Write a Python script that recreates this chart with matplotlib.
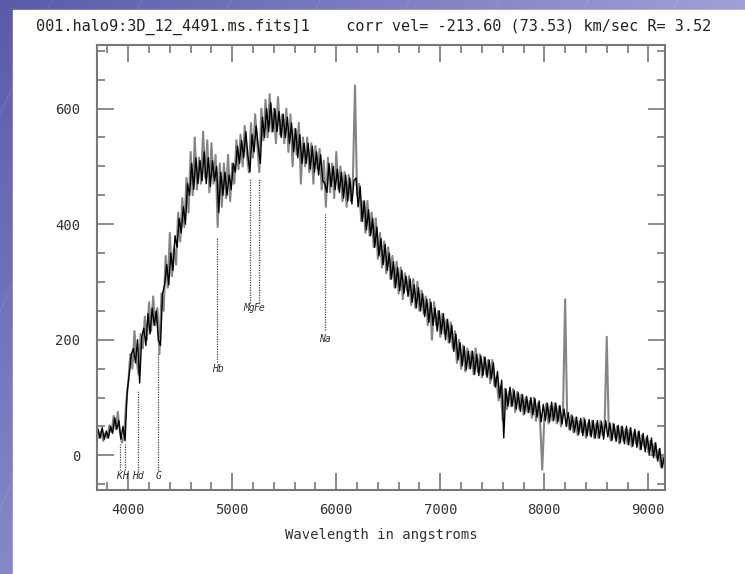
import numpy as np
import matplotlib
matplotlib.use("Agg")
import matplotlib.pyplot as plt
from matplotlib.ticker import MultipleLocator
from matplotlib.patches import Rectangle

# spectrum, gray trace (20 A steps from 3700)
onda_gris = np.arange(3700, 9161, 20)
flujo_gris = [48, 30, 42, 25, 38, 30, 52, 40, 68, 45,
              75, 40, 22, 35, 90, 125, 175, 150, 215, 165,
              140, 210, 185, 240, 200, 265, 215, 275, 225, 255,
              175, 280, 250, 345, 290, 385, 310, 360, 330, 420,
              370, 445, 395, 480, 420, 525, 450, 550, 460, 515,
              470, 560, 480, 545, 455, 540, 470, 520, 395, 505,
              430, 505, 445, 520, 440, 505, 470, 545, 495, 555,
              500, 570, 520, 490, 575, 515, 590, 540, 490, 600,
              545, 615, 550, 625, 560, 600, 540, 620, 555, 590,
              540, 600, 525, 590, 500, 565, 520, 575, 470, 550,
              500, 550, 490, 540, 470, 535, 495, 530, 460, 510,
              430, 515, 455, 505, 445, 525, 460, 500, 440, 490,
              430, 485, 440, 480, 640, 450, 470, 405, 440, 385,
              440, 380, 420, 360, 410, 340, 385, 325, 370, 315,
              360, 305, 345, 290, 335, 280, 325, 270, 315, 285,
              310, 260, 305, 255, 300, 250, 285, 245, 275, 225,
              270, 200, 265, 225, 250, 205, 245, 210, 235, 195,
              230, 185, 215, 160, 200, 150, 190, 145, 185, 150,
              180, 140, 185, 145, 175, 135, 170, 140, 165, 125,
              165, 120, 135, 95, 120, 60, 115, 80, 110, 85,
              115, 75, 110, 80, 105, 70, 100, 75, 95, 65,
              100, 60, 90, 55, -25, 65, 90, 55, 85, 60,
              90, 55, 85, 50, 80, 270, 60, 45, 70, 40,
              65, 35, 60, 40, 65, 30, 55, 35, 60, 30,
              55, 30, 60, 35, 55, 205, 40, 25, 55, 30,
              50, 20, 50, 25, 45, 20, 45, 15, 40, 20,
              40, 10, 35, 15, 30, 5, 25, 0, 20, -5,
              10, -20, 0, -25]

# spectrum, black trace (20 A steps from 3710)
onda_negra = np.arange(3710, 9151, 20)
flujo_negro = [45, 30, 48, 28, 42, 30, 50, 38, 65, 45,
               60, 28, 50, 25, 110, 140, 175, 185, 160, 200,
               125, 205, 220, 190, 245, 210, 255, 225, 250, 200,
               190, 280, 295, 330, 295, 350, 320, 380, 360, 410,
               385, 430, 400, 470, 450, 505, 460, 515, 470, 510,
               475, 525, 470, 515, 465, 510, 475, 500, 420, 490,
               450, 490, 450, 485, 460, 505, 490, 535, 505, 545,
               515, 560, 520, 490, 555, 525, 570, 535, 505, 585,
               550, 600, 560, 610, 560, 600, 560, 595, 550, 590,
               550, 585, 540, 575, 525, 565, 515, 555, 505, 540,
               505, 540, 495, 535, 490, 525, 485, 520, 475, 470,
               455, 505, 465, 500, 460, 495, 455, 490, 445, 485,
               440, 480, 435, 475, 480, 430, 465, 405, 440, 390,
               425, 380, 410, 360, 395, 345, 375, 330, 365, 320,
               350, 305, 335, 290, 325, 285, 320, 280, 310, 275,
               305, 265, 295, 255, 290, 250, 280, 240, 270, 230,
               265, 225, 255, 215, 250, 210, 245, 200, 235, 195,
               225, 180, 210, 165, 195, 155, 188, 148, 180, 150,
               180, 140, 175, 138, 172, 138, 170, 135, 165, 132,
               160, 118, 145, 100, 130, 30, 115, 85, 118, 85,
               112, 80, 108, 76, 105, 72, 102, 74, 100, 70,
               98, 66, 94, 58, 88, 60, 90, 58, 92, 60,
               90, 58, 86, 54, 80, 50, 74, 44, 68, 40,
               66, 36, 64, 34, 62, 33, 62, 32, 60, 30,
               60, 30, 58, 28, 60, 32, 56, 26, 54, 24,
               52, 22, 50, 20, 50, 18, 48, 16, 45, 14,
               42, 10, 38, 6, 34, 2, 30, -4, 22, -10,
               12, -22, -5]

# identified lines
lineas = ["K", "H", "Hd", "G", "Hb", "Mg", "Fe", "Na"]
lineas_onda = [3918, 3966, 4090, 4290, 4858, 5168, 5255, 5890]
lineas_arriba = [20, 20, 112, 177, 376, 480, 480, 419]
lineas_abajo = [-25, -25, -25, -25, 161, 263, 263, 216]
lineas_texto_y = [-35, -35, -35, -35, 150, 255, 255, 202]
lineas_texto_dx = [-6, 0, 8, 0, 0, -6, 6, 0]

titulo = "001.halo9:3D_12_4491.ms.fits]1    corr vel= -213.60 (73.53) km/sec R= 3.52"

fuente = "DejaVu Sans Mono"

fig = plt.figure(figsize=(7.45, 5.74), dpi=100)

# fondo de la diapositiva
fondo = fig.add_axes([0, 0, 1, 1], zorder=-5)
xx, yy = np.meshgrid(np.linspace(0, 1, 300), np.linspace(0, 1, 300))
r = 90 + 70 * xx + 45 * yy
g = 90 + 70 * xx + 45 * yy
b = 170 + 45 * xx + 30 * yy
img = np.dstack([r, g, b]).clip(0, 255) / 255.0
fondo.imshow(img, extent=[0, 1, 0, 1], aspect="auto", origin="upper")
for k in np.arange(-1.0, 1.2, 0.12):
    fondo.plot([k, k + 0.35], [0, 1], color="white", alpha=0.12, lw=0.7)
fondo.add_patch(Rectangle((13 / 745, 0), 1, (574 - 10) / 574, color="white", zorder=3))
fondo.set_xlim(0, 1)
fondo.set_ylim(0, 1)
fondo.axis("off")

ax = fig.add_axes([97 / 745, 84 / 574, 568 / 745, 445 / 574])
ax.plot(onda_gris, flujo_gris, color="#858585", lw=1.5)
ax.plot(onda_negra, flujo_negro, color="black", lw=1.0)

for nombre, x, y1, y0, yt, dx in zip(lineas, lineas_onda, lineas_arriba, lineas_abajo,
                                    lineas_texto_y, lineas_texto_dx):
    ax.plot([x, x], [y0, y1], color="#444444", lw=0.9, ls=(0, (1, 1)))
    ax.text(x + dx, yt, nombre, ha="center", va="center", fontsize=7,
            family=fuente, style="italic", color="#333333")

ax.set_xlim(3700, 9160)
ax.set_ylim(-60, 710)
ax.xaxis.set_major_locator(MultipleLocator(1000))
ax.xaxis.set_minor_locator(MultipleLocator(200))
ax.yaxis.set_major_locator(MultipleLocator(200))
ax.yaxis.set_minor_locator(MultipleLocator(50))
ax.tick_params(which="both", direction="in", top=True, right=True, color="#777777",
               labelsize=10, labelcolor="#333333")
ax.tick_params(which="major", length=12, width=1.2)
ax.tick_params(which="minor", length=6, width=1.2)
ax.tick_params(axis="y", pad=12)
ax.tick_params(axis="x", pad=9)
for lab in ax.get_xticklabels() + ax.get_yticklabels():
    lab.set_family(fuente)
for s in ax.spines.values():
    s.set_color("#777777")
    s.set_linewidth(1.5)

ax.set_xlabel("Wavelength in angstroms", family=fuente, fontsize=10, color="#333333", labelpad=8)
fig.text(374 / 745, 1 - 27 / 574, titulo, ha="center", va="center", family=fuente,
         fontsize=11, color="#222222")

fig.savefig("out.png", dpi=100)
